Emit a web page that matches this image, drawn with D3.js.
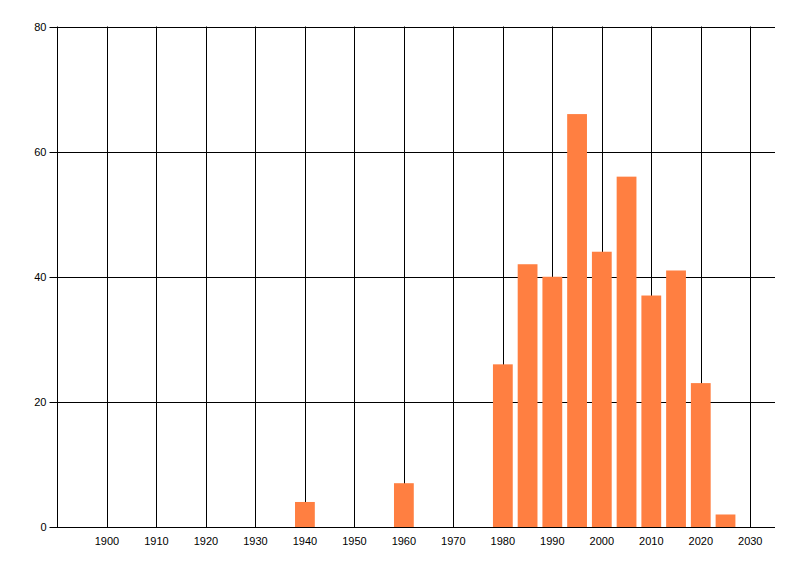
<!DOCTYPE html>
<html>
<head>
<meta charset="utf-8">
<script src="https://cdn.jsdelivr.net/npm/d3@7"></script>
<style>
  body { margin: 0; background: #fff; }
  text { font-family: "Liberation Sans", Arial, sans-serif; font-size: 11px; fill: #000; }
</style>
</head>
<body>
<div id="chart"></div>
<script>
// values
var years = [1940, 1960, 1980, 1985, 1990, 1995, 2000, 2005, 2010, 2015, 2020, 2025];
var counts = [4, 7, 26, 42, 40, 66, 44, 56, 37, 41, 23, 2];
var xTicks = [1900, 1910, 1920, 1930, 1940, 1950, 1960, 1970, 1980, 1990, 2000, 2010, 2020, 2030];
var yTicks = [0, 20, 40, 60, 80];

var width = 800, height = 576;
var margin = { top: 26.5, right: 25, bottom: 49, left: 57.5 };

var svg = d3.select("#chart")
    .append("svg")
    .attr("width", width)
    .attr("height", height);

var x = d3.scaleLinear()
    .domain([1890, 2035])
    .range([margin.left, width - margin.right]);

var y = d3.scaleLinear()
    .domain([0, 80])
    .range([height - margin.bottom, margin.top]);

// vertical grid lines
svg.append("g")
    .selectAll("line")
    .data(xTicks)
    .join("line")
    .attr("x1", function (d) { return Math.round(x(d)) + 0.5; })
    .attr("x2", function (d) { return Math.round(x(d)) + 0.5; })
    .attr("y1", y(80))
    .attr("y2", y(0))
    .attr("stroke", "#000")
    .attr("stroke-width", 1);

// horizontal grid lines + y ticks
svg.append("g")
    .selectAll("line")
    .data(yTicks)
    .join("line")
    .attr("x1", margin.left - 8)
    .attr("x2", width - margin.right)
    .attr("y1", function (d) { return Math.round(y(d)) + 0.5; })
    .attr("y2", function (d) { return Math.round(y(d)) + 0.5; })
    .attr("stroke", "#000")
    .attr("stroke-width", 1);

// left axis line
svg.append("line")
    .attr("x1", margin.left)
    .attr("x2", margin.left)
    .attr("y1", y(80))
    .attr("y2", y(0))
    .attr("stroke", "#000");

// bars
var barW = x(1894) - x(1890);
svg.append("g")
    .selectAll("rect")
    .data(years)
    .join("rect")
    .attr("x", function (d) { return x(d) - barW / 2; })
    .attr("y", function (d, i) { return y(counts[i]); })
    .attr("width", barW)
    .attr("height", function (d, i) { return y(0) - y(counts[i]); })
    .attr("fill", "#ff7f41");

// x labels
svg.append("g")
    .selectAll("text")
    .data(xTicks)
    .join("text")
    .attr("x", function (d) { return x(d); })
    .attr("y", y(0) + 18)
    .attr("text-anchor", "middle")
    .text(function (d) { return d; });

// y labels
svg.append("g")
    .selectAll("text")
    .data(yTicks)
    .join("text")
    .attr("x", margin.left - 11)
    .attr("y", function (d) { return y(d) + 4; })
    .attr("text-anchor", "end")
    .text(function (d) { return d; });
</script>
</body>
</html>
